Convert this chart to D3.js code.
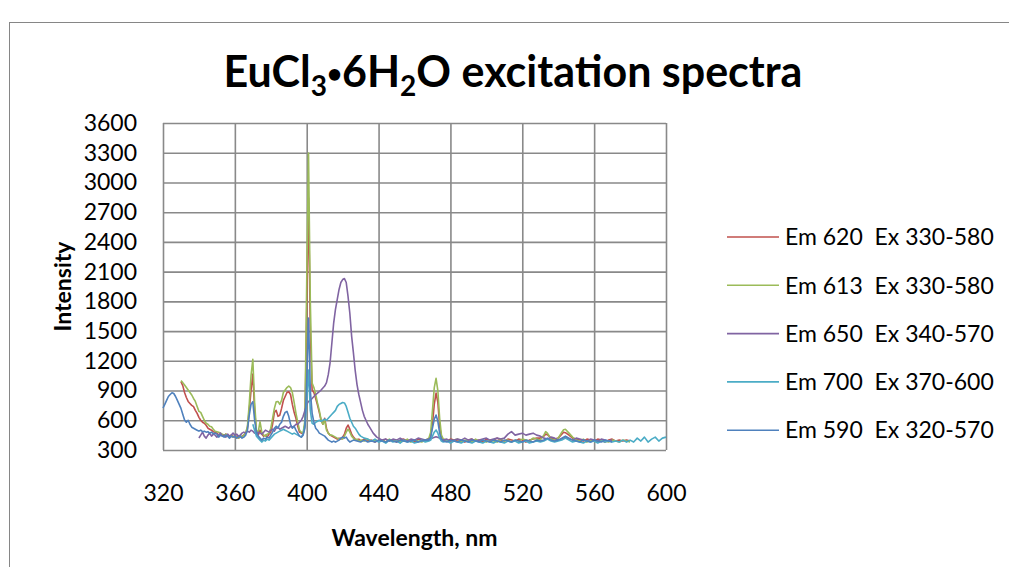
<!DOCTYPE html>
<html>
<head>
<meta charset="utf-8">
<script src="https://cdn.jsdelivr.net/npm/d3@7"></script>
<style>
  html, body { margin: 0; padding: 0; background: #fff; }
  svg text { font-family: Lato, "Open Sans", sans-serif; fill: #000; }
</style>
</head>
<body>
<div id="chart-container"></div>
<script>
// EuCl3·6H2O excitation spectra - 5 emission channels
// x = excitation wavelength (nm), y = intensity

const seriesNames = [
    "Em 620\u00a0\u00a0Ex 330-580",
    "Em 613\u00a0\u00a0Ex 330-580",
    "Em 650\u00a0\u00a0Ex 340-570",
    "Em 700\u00a0\u00a0Ex 370-600",
    "Em 590\u00a0\u00a0Ex 320-570"
];
const seriesColors = ["#C0504D", "#9BBB59", "#8064A2", "#4BACC6", "#4F81BD"];

const xTicks = [320, 360, 400, 440, 480, 520, 560, 600];
const yTicks = [300, 600, 900, 1200, 1500, 1800, 2100, 2400, 2700, 3000, 3300, 3600];

// [wavelength, intensity]
const em620 = [
    [330,990],[331,950],[332,880],[333,830],[334,790],[335,770],[336,750],[337,737],[338,700],[339,670],
    [340,630],[341,600],[342,580],[343,570],[344,550],[345,520],[346,510],[347,500],[348,485],[349,480],
    [350,470],[351,450],[352,460],[353,450],[354,440],[355,460],[356,440],[357,430],[358,450],[359,440],
    [360,430],[361,440],[362,420],[363,430],[364,440],[365,450],[366,470],[367,520],[368,700],[369,900],
    [370,1067],[371,700],[372,480],[373,450],[374,500],[375,460],[376,440],[377,450],[378,430],[379,460],
    [380,480],[381,560],[382,680],[383,700],[384,640],[385,650],[386,720],[387,800],[388,840],[389,880],
    [390,888],[391,860],[392,760],[393,680],[394,620],[395,540],[396,480],[397,470],[398,460],[399,560],
    [400,1700],[401,2843],[402,1500],[403,905],[404,880],[405,820],[406,754],[407,680],[408,600],[409,560],
    [410,620],[411,520],[412,470],[413,450],[414,440],[415,430],[416,420],[417,410],[418,420],[419,410],
    [420,430],[421,460],[422,520],[423,552],[424,510],[425,460],[426,430],[427,410],[428,400],[429,410],
    [430,390],[432,410],[434,390],[436,400],[438,380],[440,400],
    [442,390],[444,410],[446,390],[448,400],[450,380],[452,400],[454,410],[456,390],[458,400],[460,380],
    [462,410],[464,400],[466,390],[468,410],[469,440],[470,560],[471,760],[472,875],[473,780],[474,540],
    [475,430],[476,400],[478,390],[480,410],[482,400],[484,390],[486,400],[488,380],[490,400],[492,410],
    [494,390],[496,400],[498,380],[500,410],[502,390],[504,400],[506,420],[508,400],[510,390],[512,410],
    [514,400],[516,390],[518,410],[520,400],[522,380],[524,400],[526,410],[528,420],[530,420],[532,440],
    [533,460],[534,455],[536,420],[538,410],[540,420],[542,460],[543,480],[544,475],[546,450],[548,420],
    [550,410],[552,400],[554,390],[556,410],[558,400],[560,390],[562,410],[564,400],[566,380],[568,400],
    [570,410],[572,390],[574,400],[576,390],[578,400],[580,390]
];

const em613 = [
    [330,1000],[331,980],[332,956],[333,930],[334,905],[335,880],[336,855],[337,820],[338,790],[339,740],
    [340,690],[341,680],[342,640],[343,600],[344,570],[345,560],[346,540],[347,535],[348,510],[349,490],
    [350,485],[351,480],[352,470],[353,460],[354,450],[355,460],[356,440],[357,430],[358,450],[359,430],
    [360,440],[361,430],[362,420],[363,440],[364,430],[365,450],[366,470],[367,540],[368,760],[369,1050],
    [370,1215],[371,780],[372,500],[373,480],[374,585],[375,480],[376,450],[377,440],[378,460],[379,470],
    [380,520],[381,620],[382,720],[383,787],[384,790],[385,760],[386,800],[387,880],[388,905],[389,930],
    [390,946],[391,930],[392,880],[393,780],[394,673],[395,580],[396,500],[397,480],[398,470],[399,600],
    [400,2000],[401,3297],[402,1800],[403,976],[404,930],[405,860],[406,774],[407,700],[408,603],[409,560],
    [410,600],[411,500],[412,470],[413,450],[414,450],[415,440],[416,430],[417,420],[418,410],[419,420],
    [420,410],[421,440],[422,480],[423,510],[424,480],[425,440],[426,420],[427,400],[428,410],[429,390],
    [430,400],[432,390],[434,410],[436,390],[438,400],[440,390],
    [442,400],[444,380],[446,410],[448,390],[450,400],[452,380],[454,390],[456,410],[458,380],[460,400],
    [462,390],[464,380],[466,400],[468,420],[469,480],[470,700],[471,930],[472,1023],[473,900],[474,620],
    [475,450],[476,410],[478,400],[480,380],[482,400],[484,410],[486,380],[488,400],[490,390],[492,380],
    [494,410],[496,390],[498,400],[500,380],[502,400],[504,390],[506,380],[508,410],[510,390],[512,400],
    [514,380],[516,400],[518,390],[520,410],[522,400],[524,390],[526,420],[528,410],[530,400],[532,450],
    [533,485],[534,470],[536,410],[538,400],[540,420],[542,480],[543,505],[544,509],[546,470],[548,430],
    [550,400],[552,390],[554,410],[556,380],[558,400],[560,390],[562,380],[564,400],[566,390],[568,380],
    [570,400],[572,390],[574,380],[576,400],[578,390],[580,380]
];

const em650 = [
    [340,421],[341,450],[342,480],[343,440],[344,420],[345,450],[346,470],[347,440],[348,460],[349,450],
    [350,430],[351,450],[352,470],[353,440],[354,450],[355,430],[356,460],[357,440],[358,450],[359,470],
    [360,450],[361,460],[362,440],[363,450],[364,470],[365,480],[366,470],[367,490],[368,480],[369,500],
    [370,490],[371,470],[372,460],[373,480],[374,470],[375,460],[376,480],[377,500],[378,490],[379,480],
    [380,500],[381,510],[382,490],[383,520],[384,530],[385,510],[386,520],[387,530],[388,540],[389,530],
    [390,520],[391,540],[392,530],[393,540],[394,560],[395,560],[396,580],[397,600],[398,640],[399,700],
    [400,760],[401,790],[402,800],[403,820],[404,840],[405,860],[406,875],[407,890],[408,905],[409,925],
    [410,945],[411,980],[412,1060],[413,1180],[414,1380],[415,1580],[416,1720],[417,1820],[418,1920],[419,1990],
    [420,2020],[421,2030],[422,1990],[423,1850],[424,1680],[425,1450],[426,1280],[427,1100],[428,960],[429,860],
    [430,780],[431,700],[432,640],[433,600],[434,560],[435,530],[436,500],[437,470],[438,450],[439,430],
    [440,420],[442,400],[444,410],[446,390],[448,410],[450,400],[452,420],[454,400],[456,390],[458,410],
    [460,400],[462,420],[464,410],[466,400],[468,410],[470,420],[472,434],[474,420],[476,400],[478,410],
    [480,390],[482,400],[484,410],[486,400],[488,420],[490,400],[492,410],[494,390],[496,400],[498,410],
    [500,420],[502,400],[504,410],[506,420],[508,410],[510,420],[512,460],[514,485],[516,450],[518,460],
    [520,470],[522,450],[524,460],[526,470],[528,450],[530,440],[532,420],[534,410],[536,430],[538,420],
    [540,400],[542,410],[544,430],[546,410],[548,400],[550,420],[552,410],[554,400],[556,390],[558,410],
    [560,400],[562,390],[564,410],[566,400],[568,390],[570,400]
];

const em700 = [
    [370,560],[371,500],[372,440],[373,420],[374,400],[375,380],[376,400],[377,390],[378,410],[379,400],
    [380,420],[381,440],[382,460],[383,470],[384,480],[385,490],[386,500],[387,510],[388,500],[389,490],
    [390,480],[391,470],[392,460],[393,470],[394,460],[395,450],[396,440],[397,430],[398,460],[399,550],
    [400,800],[401,1107],[402,700],[403,570],[404,560],[405,580],[406,590],[407,600],[408,590],[409,600],
    [410,610],[411,600],[412,620],[413,640],[414,660],[415,680],[416,700],[417,740],[418,760],[419,770],
    [420,780],[421,775],[422,740],[423,680],[424,620],[425,580],[426,540],[427,520],[428,490],[429,460],
    [430,440],[432,420],[434,410],[436,390],[438,410],[440,380],
    [442,390],[444,370],[446,400],[448,380],[450,390],[452,370],[454,400],[456,380],[458,390],[460,370],
    [462,380],[464,400],[466,380],[468,390],[469,400],[470,440],[471,480],[472,502],[473,470],[474,420],
    [475,390],[476,380],[478,390],[480,370],[482,390],[484,380],[486,370],[488,390],[490,380],[492,370],
    [494,390],[496,380],[498,370],[500,390],[502,380],[504,370],[506,390],[508,380],[510,370],[512,390],
    [514,380],[516,390],[518,370],[520,380],[522,390],[524,370],[526,380],[528,390],[530,380],[532,390],
    [534,410],[536,390],[538,380],[540,390],[542,400],[544,420],[546,400],[548,380],[550,390],[552,380],
    [554,370],[556,390],[558,380],[560,390],[562,370],[564,390],[566,380],[568,390],[570,380],[572,390],
    [574,380],[576,400],[578,380],[580,400],[582,380],[584,420],[586,390],[588,430],[590,380],[592,410],
    [594,430],[596,390],[598,420],[600,430]
];

const em590 = [
    [320,724],[321,760],[322,800],[323,840],[324,860],[325,878],[326,870],[327,840],[328,800],[329,760],
    [330,720],[331,660],[332,603],[333,580],[334,600],[335,560],[336,530],[337,520],[338,510],[339,500],
    [340,490],[341,500],[342,485],[343,490],[344,480],[345,485],[346,470],[347,480],[348,465],[349,470],
    [350,460],[351,430],[352,450],[353,440],[354,430],[355,450],[356,440],[357,420],[358,440],[359,430],
    [360,440],[361,420],[362,430],[363,440],[364,420],[365,430],[366,450],[367,500],[368,650],[369,760],
    [370,787],[371,600],[372,480],[373,440],[374,420],[375,400],[376,420],[377,410],[378,430],[379,420],
    [380,450],[381,480],[382,520],[383,540],[384,520],[385,560],[386,580],[387,640],[388,680],[389,690],
    [390,640],[391,560],[392,520],[393,540],[394,500],[395,470],[396,440],[397,430],[398,450],[399,520],
    [400,1000],[401,1632],[402,900],[403,673],[404,580],[405,520],[406,500],[407,470],[408,460],[409,450],
    [410,440],[411,420],[412,400],[413,390],[414,380],[415,390],[416,380],[417,390],[418,400],[419,420],
    [420,430],[421,420],[422,430],[423,400],[424,380],[426,400],[428,390],[430,380],[432,400],[434,380],
    [436,390],[438,380],[440,400],[442,390],[444,380],[446,400],[448,390],[450,380],[452,400],[454,390],
    [456,380],[458,390],[460,400],[462,380],[464,390],[466,400],[468,400],[469,430],[470,520],[471,610],
    [472,653],[473,590],[474,470],[475,410],[476,390],[478,380],[480,400],[482,390],[484,380],[486,400],
    [488,390],[490,380],[492,400],[494,390],[496,380],[498,400],[500,390],[502,380],[504,400],[506,390],
    [508,380],[510,400],[512,390],[514,380],[516,400],[518,390],[520,380],[522,400],[524,390],[526,380],
    [528,400],[530,390],[532,400],[534,420],[536,400],[538,390],[540,400],[542,420],[544,440],[546,420],
    [548,400],[550,390],[552,380],[554,400],[556,390],[558,380],[560,400],[562,390],[564,380],[566,400],
    [568,390],[570,380]
];

const allSeries = [em620, em613, em650, em700, em590];

const svgWidth = 1009;
const svgHeight = 567;
const margin = { top: 123, left: 163 };
const width = 503;
const height = 327;

const svg = d3.select("#chart-container")
    .append("svg")
    .attr("width", svgWidth)
    .attr("height", svgHeight);

// chart area border
svg.append("rect")
    .attr("x", 9.5)
    .attr("y", 22.5)
    .attr("width", 1100)
    .attr("height", 600)
    .attr("fill", "#fff")
    .attr("stroke", "#868686")
    .attr("stroke-width", 1);

const chart = svg.append("g")
    .attr("transform", `translate(${margin.left},${margin.top})`);

const scaleX = d3.scaleLinear().domain([320, 600]).range([0, width]);
const scaleY = d3.scaleLinear().domain([300, 3600]).range([height, 0]);

const gridColor = "#898989";

// y axis + horizontal gridlines
const yAxis = chart.append("g")
    .call(d3.axisLeft(scaleY).tickValues(yTicks).tickFormat(d3.format("d"))
        .tickSizeInner(-width).tickSizeOuter(0).tickPadding(26));
yAxis.select(".domain").remove();
yAxis.selectAll("line").attr("stroke", gridColor).attr("stroke-width", 1.6);
yAxis.selectAll("text").attr("font-size", "23px").attr("font-family", "Lato, sans-serif");

// x axis + vertical gridlines
const xAxis = chart.append("g")
    .attr("transform", `translate(0,${height})`)
    .call(d3.axisBottom(scaleX).tickValues(xTicks).tickSizeInner(-height).tickSizeOuter(0).tickPadding(35));
xAxis.select(".domain").remove();
xAxis.selectAll("line").attr("stroke", gridColor).attr("stroke-width", 1.6);
xAxis.selectAll("text").attr("font-size", "23px").attr("font-family", "Lato, sans-serif");

const line = d3.line()
    .x(d => scaleX(d[0]))
    .y(d => scaleY(d[1]));

chart.selectAll(".series")
    .data(allSeries)
    .enter()
    .append("path")
    .attr("class", "series")
    .attr("d", line)
    .attr("fill", "none")
    .attr("stroke", (d, i) => seriesColors[i])
    .attr("stroke-width", 1.6)
    .attr("stroke-linejoin", "round");

// title
const title = svg.append("text")
    .attr("x", 513)
    .attr("y", 87)
    .attr("text-anchor", "middle")
    .attr("font-size", "43px")
    .attr("font-weight", "bold");
title.append("tspan").text("EuCl");
title.append("tspan").attr("font-size", "28px").attr("dy", 9).text("3");
title.append("tspan").attr("font-size", "26px").attr("dy", -13).text("\u2022");
title.append("tspan").attr("dy", 4).text("6H");
title.append("tspan").attr("font-size", "28px").attr("dy", 9).text("2");
title.append("tspan").attr("dy", -9).text("O excitation spectra");

// axis titles
svg.append("text")
    .attr("x", margin.left + width / 2)
    .attr("y", 546)
    .attr("text-anchor", "middle")
    .attr("font-size", "23px")
    .attr("font-weight", "bold")
    .text("Wavelength, nm");

svg.append("text")
    .attr("transform", `translate(71,${margin.top + height / 2}) rotate(-90)`)
    .attr("text-anchor", "middle")
    .attr("font-size", "23px")
    .attr("font-weight", "bold")
    .text("Intensity");

// legend
const legend = svg.append("g")
    .attr("transform", "translate(727,237)");

const items = legend.selectAll("g")
    .data(seriesNames)
    .enter()
    .append("g")
    .attr("transform", (d, i) => `translate(0,${i * 48.3})`);

items.append("line")
    .attr("x1", 0).attr("x2", 52)
    .attr("stroke", (d, i) => seriesColors[i])
    .attr("stroke-width", 1.6);

items.append("text")
    .attr("x", 58)
    .attr("dy", "0.36em")
    .attr("font-size", "23px")
    .text(d => d);
</script>
</body>
</html>
